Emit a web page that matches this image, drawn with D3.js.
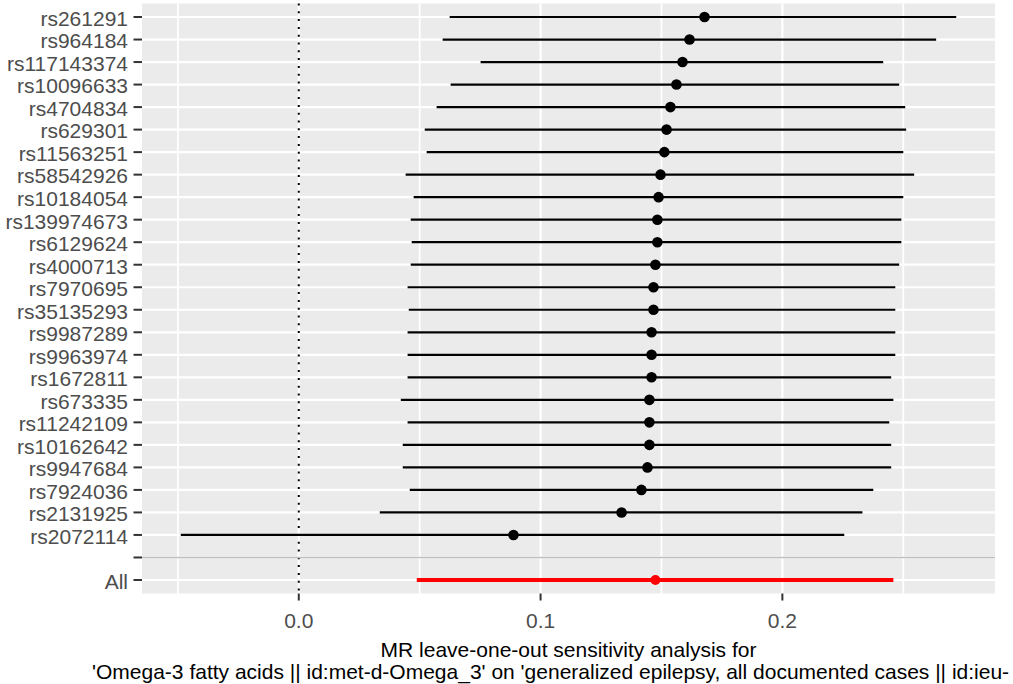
<!DOCTYPE html>
<html>
<head>
<meta charset="utf-8">
<script src="https://cdn.jsdelivr.net/npm/d3@7/dist/d3.min.js"></script>
<style>
  html, body { margin: 0; padding: 0; background: #fff; }
  svg { display: block; }
  text { font-family: "Liberation Sans", Arial, sans-serif; }
</style>
</head>
<body>
<svg id="chart" width="1013" height="684"></svg>
<script>
// ---- data ----
const snps = ["rs261291","rs964184","rs117143374","rs10096633","rs4704834","rs629301","rs11563251","rs58542926","rs10184054","rs139974673","rs6129624","rs4000713","rs7970695","rs35135293","rs9987289","rs9963974","rs1672811","rs673335","rs11242109","rs10162642","rs9947684","rs7924036","rs2131925","rs2072114"];
const b  = [0.1678,0.1616,0.1587,0.1562,0.1537,0.1521,0.1512,0.1496,0.1488,0.1483,0.1483,0.1475,0.1467,0.1467,0.1459,0.1459,0.1459,0.1450,0.1450,0.1450,0.1442,0.1417,0.1335,0.0888];
const lo = [0.0624,0.0595,0.0752,0.0628,0.0570,0.0521,0.0529,0.0442,0.0475,0.0463,0.0467,0.0463,0.0450,0.0455,0.0450,0.0450,0.0450,0.0422,0.0450,0.0430,0.0430,0.0459,0.0335,-0.0488];
const hi = [0.2719,0.2636,0.2417,0.2483,0.2508,0.2512,0.2500,0.2545,0.2500,0.2492,0.2492,0.2483,0.2467,0.2467,0.2467,0.2467,0.2450,0.2459,0.2442,0.2450,0.2450,0.2376,0.2331,0.2256];
const allLabel = "All";
const allB = 0.1475, allLo = 0.0488, allHi = 0.2459;
const xTicks = [0, 0.1, 0.2];
const xMinor = [-0.05, 0.05, 0.15, 0.25];
const titleLines = ["MR leave-one-out sensitivity analysis for",
  "'Omega-3 fatty acids || id:met-d-Omega_3' on 'generalized epilepsy, all documented cases || id:ieu-"];

// ---- layout ----
const svg = d3.select("#chart");
const P = { left: 142, right: 995, top: 3.5, bottom: 593.5 };
const rows = snps.concat([" ", allLabel]);

const dmin = d3.min(lo.concat([allLo])), dmax = d3.max(hi.concat([allHi]));
const ex = (dmax - dmin) * 0.05;
const x = d3.scaleLinear().domain([dmin - ex, dmax + ex]).range([P.left, P.right]);
const y = d3.scalePoint().domain(rows).range([P.top, P.bottom]).padding(0.6);

// panel
svg.append("rect").attr("x", P.left).attr("y", P.top)
  .attr("width", P.right - P.left).attr("height", P.bottom - P.top).attr("fill", "#EBEBEB");

const g = svg.append("g");
// minor vertical grid
g.selectAll(".vmin").data(xMinor).join("line")
  .attr("x1", d => x(d)).attr("x2", d => x(d)).attr("y1", P.top).attr("y2", P.bottom)
  .attr("stroke", "#fff").attr("stroke-width", 1.8);
// major vertical grid
g.selectAll(".vmaj").data(xTicks).join("line")
  .attr("x1", d => x(d)).attr("x2", d => x(d)).attr("y1", P.top).attr("y2", P.bottom)
  .attr("stroke", "#fff").attr("stroke-width", 2.2);
// horizontal grid
g.selectAll(".hmaj").data(rows).join("line")
  .attr("x1", P.left).attr("x2", P.right).attr("y1", d => y(d)).attr("y2", d => y(d))
  .attr("stroke", "#fff").attr("stroke-width", 2.2);

// dotted zero line
g.append("line").attr("x1", x(0)).attr("x2", x(0)).attr("y1", P.top).attr("y2", P.bottom)
  .attr("stroke", "#000").attr("stroke-width", 2).attr("stroke-dasharray", "2 5.8");

// separator line
g.append("line").attr("x1", P.left).attr("x2", P.right).attr("y1", y(" ")).attr("y2", y(" "))
  .attr("stroke", "#BEBEBE").attr("stroke-width", 1.6);

// SNP intervals
const data = snps.map((s, i) => ({ s, b: b[i], lo: lo[i], hi: hi[i] }));
g.selectAll(".seg").data(data).join("line")
  .attr("x1", d => x(d.lo)).attr("x2", d => x(d.hi))
  .attr("y1", d => y(d.s)).attr("y2", d => y(d.s))
  .attr("stroke", "#000").attr("stroke-width", 2.2);
g.selectAll(".pt").data(data).join("circle")
  .attr("cx", d => x(d.b)).attr("cy", d => y(d.s)).attr("r", 5.3).attr("fill", "#000");

// All
g.append("line").attr("x1", x(allLo)).attr("x2", x(allHi))
  .attr("y1", y(allLabel)).attr("y2", y(allLabel))
  .attr("stroke", "#FF0000").attr("stroke-width", 4.2);
g.append("circle").attr("cx", x(allB)).attr("cy", y(allLabel)).attr("r", 5).attr("fill", "#FF0000");

// y axis
const ya = svg.append("g");
ya.selectAll("line").data(rows).join("line")
  .attr("x1", P.left - 8.5).attr("x2", P.left).attr("y1", d => y(d)).attr("y2", d => y(d))
  .attr("stroke", "#333").attr("stroke-width", 2);
ya.selectAll("text").data(rows).join("text")
  .attr("x", P.left - 14).attr("y", d => y(d)).attr("dy", "0.42em")
  .attr("text-anchor", "end").attr("font-size", 21).attr("fill", "#4D4D4D")
  .text(d => d.trim());

// x axis
const xa = svg.append("g");
xa.selectAll("line").data(xTicks).join("line")
  .attr("x1", d => x(d)).attr("x2", d => x(d)).attr("y1", P.bottom).attr("y2", P.bottom + 7)
  .attr("stroke", "#333").attr("stroke-width", 2);
xa.selectAll("text").data(xTicks).join("text")
  .attr("x", d => x(d)).attr("y", 628)
  .attr("text-anchor", "middle").attr("font-size", 21).attr("fill", "#4D4D4D")
  .text(d3.format(".1f"));

// title (x axis label)
svg.append("text").attr("x", (P.left + P.right) / 2).attr("y", 657)
  .attr("text-anchor", "middle").attr("font-size", 21).attr("fill", "#000").text(titleLines[0]);
svg.append("text").attr("x", 92).attr("y", 679)
  .attr("text-anchor", "start").attr("font-size", 21).attr("fill", "#000").text(titleLines[1]);
</script>
</body>
</html>
